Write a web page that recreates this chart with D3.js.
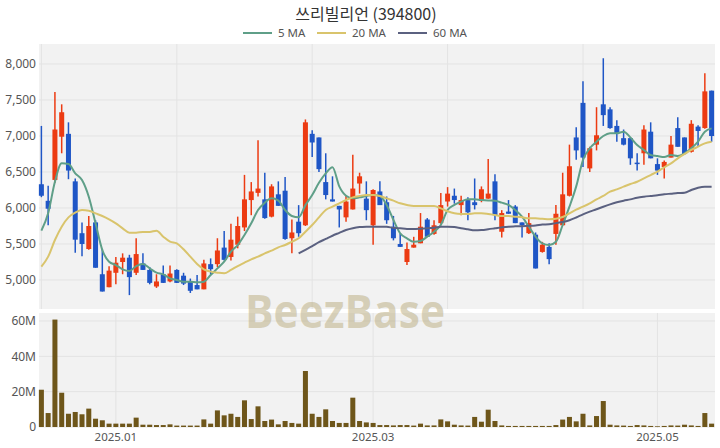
<!DOCTYPE html>
<html><head><meta charset="utf-8">
<script src="https://cdn.jsdelivr.net/npm/d3@7"></script>
<style>html,body{margin:0;padding:0;background:#fff;}svg{display:block;}</style>
</head><body><svg id="c" width="720" height="448"></svg>
<script>
const title = "쓰리빌리언 (394800)";
const dates = ["2024-12-13","2024-12-16","2024-12-17","2024-12-18","2024-12-19","2024-12-20","2024-12-23","2024-12-24","2024-12-26","2024-12-27","2024-12-30",
"2025-01-02","2025-01-03","2025-01-06","2025-01-07","2025-01-08","2025-01-09","2025-01-10","2025-01-13","2025-01-14","2025-01-15","2025-01-16","2025-01-17","2025-01-20","2025-01-21","2025-01-22","2025-01-23","2025-01-24","2025-01-31",
"2025-02-03","2025-02-04","2025-02-05","2025-02-06","2025-02-07","2025-02-10","2025-02-11","2025-02-12","2025-02-13","2025-02-14","2025-02-17","2025-02-18","2025-02-19","2025-02-20","2025-02-21","2025-02-24","2025-02-25","2025-02-26","2025-02-27","2025-02-28",
"2025-03-04","2025-03-05","2025-03-06","2025-03-07","2025-03-10","2025-03-11","2025-03-12","2025-03-13","2025-03-14","2025-03-17","2025-03-18","2025-03-19","2025-03-20","2025-03-21","2025-03-24","2025-03-25","2025-03-26","2025-03-27","2025-03-28","2025-03-31",
"2025-04-01","2025-04-02","2025-04-03","2025-04-04","2025-04-07","2025-04-08","2025-04-09","2025-04-10","2025-04-11","2025-04-14","2025-04-15","2025-04-16","2025-04-17","2025-04-18","2025-04-21","2025-04-22","2025-04-23","2025-04-24","2025-04-25","2025-04-28","2025-04-29","2025-04-30",
"2025-05-02","2025-05-07","2025-05-08","2025-05-09","2025-05-12","2025-05-13","2025-05-14","2025-05-15","2025-05-16"];
const open  = [6330,6100,6390,6990,7030,6370,5650,5430,5800,5080,4900,5100,5250,5310,5100,5230,5140,4910,5080,4980,5140,5060,4980,4930,4870,5220,5220,5450,5320,5490,5730,6110,6210,6120,5880,6190,6240,5580,5810,5760,7030,6980,6360,6120,6030,5870,5980,6340,6130,5760,6230,6080,5740,5500,5250,5450,5510,5840,5640,5790,6090,6170,6040,6110,6080,6100,6130,6370,5670,5950,6020,5800,5650,5630,5390,5460,5640,5760,6170,6980,7460,6550,6880,7440,7370,7140,6970,6970,6630,6760,7060,6610,6570,6700,7110,6980,6780,7130,7110,7630];
const high  = [7140,6310,7610,7440,7190,6410,5800,5890,5830,5430,5190,5320,5370,5350,5580,5370,5180,5080,5200,5200,5150,5100,5020,5070,5280,5300,5580,5680,5780,5880,6460,6360,6940,6490,6330,6370,6430,5840,6040,7230,7080,6980,6760,6440,6030,6180,6740,6490,6370,6260,6370,6160,5890,5640,5520,5600,5930,5860,5830,6210,6290,6270,6170,6150,6410,6300,6680,6470,5970,6110,6040,5800,5930,5660,5530,5510,6040,6490,6880,7120,7760,6850,7400,8080,7400,7220,7090,6980,6760,7150,7190,6690,6660,7000,7260,6980,7220,7150,7870,7630];
const low   = [6150,5760,6350,6760,6400,5380,5330,5420,5170,4840,4900,4940,5080,4790,5070,5140,4940,4890,4960,4970,4960,4930,4820,4870,4870,5080,5180,5270,5270,5440,5680,5900,6160,5850,5870,6030,5560,5370,5600,5750,6710,6500,6120,6090,5730,5810,5980,6200,5830,5490,6040,5780,5550,5460,5210,5450,5510,5600,5630,5780,6020,6060,5900,5830,5980,6080,6130,5830,5590,5920,5790,5590,5640,5160,5380,5220,5490,5760,6160,6670,6570,6500,6800,7140,7100,6920,6870,6600,6520,6600,6690,6460,6410,6700,6850,6740,6770,6850,7100,6920];
const close = [6170,5990,7090,7330,6520,5560,5500,5750,5170,4840,5130,5240,5310,5040,5360,5140,4960,4980,4960,5090,4960,4950,4850,4870,5230,5150,5410,5280,5560,5750,6120,6230,6270,5860,6300,6030,5570,5660,5650,7190,6910,6540,6180,6090,5980,6090,6270,6440,5970,6250,6040,5830,5580,5460,5430,5490,5740,5600,5760,6040,6200,6110,6110,5940,6040,6260,6200,5900,5930,5920,5790,5760,5790,5160,5490,5290,5920,6190,6580,6800,6700,6830,7010,7290,7110,7040,6880,6690,6610,7090,6690,6520,6640,6880,6850,6750,7170,7070,7620,7000];
const volumeM = [21.1,7.9,60.8,19.4,7.5,8.5,7.2,10.4,4.7,3.8,1.9,1.9,1.9,1.9,5.3,1.3,1.3,1.1,1.1,1.5,0.8,0.8,0.8,0.8,4.3,1.9,9.4,6.6,7.5,5.7,15.1,4.5,11.7,3.4,4.2,1.5,3.4,2.3,1.9,31.7,7.5,5.7,10.0,3.4,2.3,2.3,16.6,3.4,2.6,2.3,1.1,1.1,0.9,1.1,1.1,0.8,1.9,0.9,0.9,4.3,3.2,1.3,0.9,0.8,5.7,3.0,9.8,3.4,0.9,0.6,0.6,0.6,0.6,0.6,0.6,0.6,1.1,4.2,5.7,3.2,7.5,0.9,6.2,14.7,1.3,0.9,0.8,0.6,1.1,0.9,0.6,0.4,0.6,0.9,0.8,1.3,0.9,0.6,7.9,1.9];
const ma5 = [5685,5926,6365,6620,6611,6481,6389,6157,5787,5417,5254,5208,5148,5125,5194,5222,5162,5102,5079,5023,5000,4977,4977,4968,4977,5069,5162,5254,5393,5486,5625,5787,5972,6074,6134,6102,5972,5889,5870,6040,6180,6350,6480,6565,6300,6170,6134,6148,6167,6181,6167,6042,5833,5648,5579,5532,5542,5602,5671,5764,5972,6042,6088,6120,6120,6111,6105,6102,6074,6042,5972,5880,5741,5602,5509,5486,5532,5764,6018,6300,6667,6829,6921,7000,7037,7037,7060,6981,6875,6806,6736,6722,6708,6736,6722,6759,6829,6921,7060,7106];
const ma20 = [5185,5324,5556,5741,5870,5935,5972,5963,5926,5889,5843,5787,5718,5657,5657,5667,5667,5685,5602,5532,5509,5426,5324,5222,5148,5116,5102,5093,5139,5194,5241,5287,5324,5370,5408,5454,5486,5532,5579,5671,5764,5870,5972,6018,6065,6111,6148,6167,6181,6181,6167,6134,6102,6065,6042,6028,6028,6028,6028,5995,5954,5926,5917,5917,5926,5926,5917,5903,5889,5889,5880,5870,5856,5856,5850,5843,5850,5875,5926,5977,6018,6065,6120,6167,6227,6259,6296,6333,6365,6412,6458,6505,6565,6620,6690,6750,6806,6852,6898,6921];
const ma60 = [null,null,null,null,null,null,null,null,null,null,null,null,null,null,null,null,null,null,null,null,null,null,null,null,null,null,null,null,null,null,null,null,null,null,null,null,null,null,
5370,5420,5470,5525,5570,5615,5655,5695,5720,5735,5740,5741,5741,5738,5725,5718,5710,5708,5712,5718,5727,5741,5741,5735,5718,5704,5690,5694,5705,5718,5731,5741,5745,5748,5752,5758,5770,5775,5790,5805,5830,5868,5912,5949,5982,6018,6051,6079,6102,6120,6143,6157,6167,6176,6190,6199,6208,6213,6250,6282,6296,6296];
const priceTicks = [5000,5500,6000,6500,7000,7500,8000];
const volTicks = [0,20,40,60];
const monthTicks = ["2025-01-02","2025-03-04","2025-05-02"];
const monthLabels = ["2025.01","2025.03","2025.05"];
const priceGridDates = ["2024-12-13","2025-01-15","2025-02-18","2025-03-19","2025-04-16"];
const seriesNames = ["5 MA","20 MA","60 MA"];
const seriesColors = ["#5f9f88","#d9c46c","#5b6180"];
const upColor = "#ec3b12", downColor = "#1f56c6", volColor = "#6e561a";

const svg = d3.select("#c");
const L = 39, R = 715, pTop = 44, pBot = 309, vTop = 313, vBot = 428;
const font = "'Noto Sans','Noto Sans CJK KR',sans-serif";

const x = d3.scaleBand().domain(dates).range([38, 715]).paddingInner(0.26).paddingOuter(0.13);
const cx = d => x(d) + x.bandwidth() / 2;
const y = d3.scaleLinear().domain([5000, 8000]).range([280, 64]);
const yv = d3.scaleLinear().domain([0, 60]).range([427, 321]);

// panels
svg.append("rect").attr("x", L).attr("y", pTop).attr("width", R - L).attr("height", pBot - pTop).attr("fill", "#f2f2f2");
svg.append("rect").attr("x", L).attr("y", vTop).attr("width", R - L).attr("height", vBot - vTop).attr("fill", "#f2f2f2");

// grids
const gp = svg.append("g");
gp.selectAll("line.h").data(priceTicks).join("line")
  .attr("x1", L).attr("x2", R).attr("y1", d => y(d)).attr("y2", d => y(d))
  .attr("stroke", "#e3e3e3").attr("stroke-width", 1);
gp.selectAll("line.v").data(priceGridDates).join("line").attr("class","v")
  .attr("x1", d => cx(d)).attr("x2", d => cx(d)).attr("y1", pTop).attr("y2", pBot)
  .attr("stroke", "#e3e3e3").attr("stroke-width", 1);
const gv = svg.append("g");
gv.selectAll("line.h").data(volTicks.slice(1)).join("line")
  .attr("x1", L).attr("x2", R).attr("y1", d => yv(d)).attr("y2", d => yv(d))
  .attr("stroke", "#e3e3e3");
gv.selectAll("line.v").data(monthTicks).join("line").attr("class","v")
  .attr("x1", d => cx(d)).attr("x2", d => cx(d)).attr("y1", vTop).attr("y2", vBot)
  .attr("stroke", "#e3e3e3");

// axes labels
svg.append("g").selectAll("text").data(priceTicks).join("text")
  .attr("x", 36).attr("y", d => y(d)).attr("dy", "0.35em").attr("text-anchor", "end")
  .attr("font-family", font).attr("font-size", 12).attr("fill", "#555")
  .text(d => d3.format(",")(d));
svg.append("g").selectAll("text").data(volTicks).join("text")
  .attr("x", 36).attr("y", d => yv(d)).attr("dy", "0.35em").attr("text-anchor", "end")
  .attr("font-family", font).attr("font-size", 12).attr("fill", "#555")
  .text(d => d === 0 ? "0" : d + "M");
svg.append("g").selectAll("text").data(monthTicks).join("text")
  .attr("x", d => cx(d)).attr("y", 441).attr("text-anchor", "middle")
  .attr("font-family", font).attr("font-size", 11.5).attr("fill", "#555")
  .text((d, i) => monthLabels[i]);

// watermark
svg.append("text").attr("x", 345).attr("y", 328).attr("text-anchor", "middle")
  .attr("font-family", "'Open Sans','Noto Sans',sans-serif").attr("font-weight", 700).attr("font-size", 46)
  .attr("textLength", 200).attr("lengthAdjust", "spacingAndGlyphs")
  .attr("fill", "#b8aa7c").attr("fill-opacity", 0.5).text("BeezBase");

// volume bars
svg.append("g").selectAll("rect").data(dates).join("rect")
  .attr("x", d => x(d)).attr("width", x.bandwidth())
  .attr("y", (d, i) => yv(volumeM[i])).attr("height", (d, i) => yv(0) - yv(volumeM[i]))
  .attr("fill", volColor);

// candles
const gc = svg.append("g");
dates.forEach((d, i) => {
  const col = close[i] >= open[i] ? upColor : downColor;
  gc.append("line").attr("x1", cx(d)).attr("x2", cx(d)).attr("y1", y(high[i])).attr("y2", y(low[i]))
    .attr("stroke", col).attr("stroke-width", 1.5);
  const top = y(Math.max(open[i], close[i])), bot = y(Math.min(open[i], close[i]));
  gc.append("rect").attr("x", x(d)).attr("width", x.bandwidth())
    .attr("y", top).attr("height", Math.max(1.5, bot - top)).attr("fill", col);
});

// MA lines
const mas = [ma5, ma20, ma60];
mas.forEach((arr, k) => {
  const line = d3.line().defined(v => v != null).x((v, i) => cx(dates[i])).y(v => y(v)).curve(d3.curveMonotoneX);
  svg.append("path").attr("d", line(arr)).attr("fill", "none")
    .attr("stroke", seriesColors[k]).attr("stroke-width", 2);
});

// title
svg.append("text").attr("x", 366).attr("y", 20).attr("text-anchor", "middle")
  .attr("font-family", "'Noto Sans CJK KR','Noto Sans',sans-serif").attr("font-size", 16).attr("fill", "#333")
  .text(title);

// legend
const legX = [243, 317, 398];
const lg = svg.append("g");
seriesNames.forEach((n, k) => {
  lg.append("line").attr("x1", legX[k]).attr("x2", legX[k] + 29).attr("y1", 33).attr("y2", 33)
    .attr("stroke", seriesColors[k]).attr("stroke-width", 2);
  lg.append("text").attr("x", legX[k] + 35).attr("y", 33).attr("dy", "0.35em")
    .attr("font-family", font).attr("font-size", 11.5).attr("fill", "#555").text(n);
});
</script></body></html>
